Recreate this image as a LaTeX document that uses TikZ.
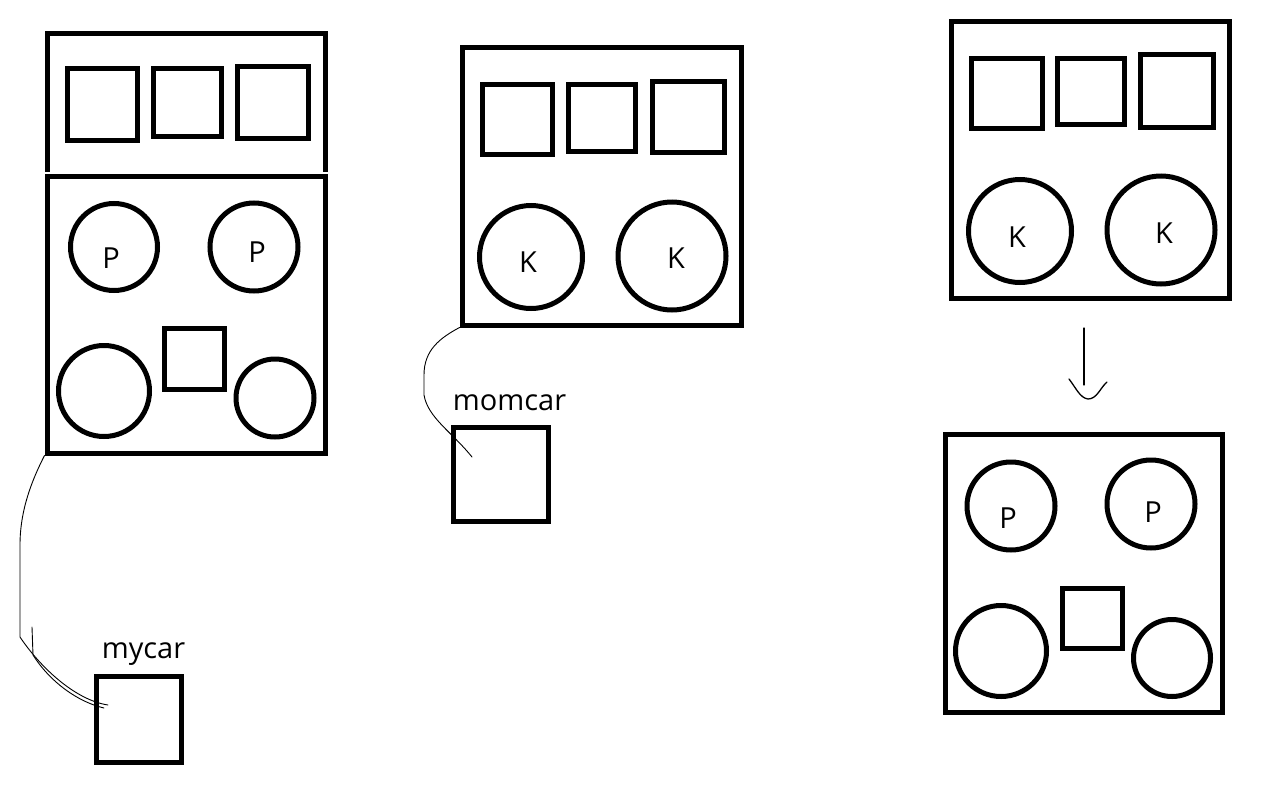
\documentclass[tikz,border=0pt]{standalone}
\usepackage{fontspec}
\setmainfont{Open Sans}
\begin{document}
\begin{tikzpicture}[x=1pt,y=-1pt,
  frame/.style={draw, line width=5pt, rectangle, inner sep=0pt},
  sq/.style={draw, line width=5pt, rectangle, inner sep=0pt},
  wheel/.style={draw, line width=5pt, circle, inner sep=0pt},
  lbl/.style={font=\fontsize{29}{31}\selectfont, anchor=base, inner sep=0pt},
  wire/.style={line width=0.9pt, line cap=round, line join=round}]
\useasboundingbox[fill=white] (0,0) rectangle (1271,787);

% ---------- left: mycar ----------
\draw[line width=5pt] (47,172) -- (47,33) -- (325,33) -- (325,172);
\node[sq, minimum width=70pt, minimum height=72pt] (l1) at (102,104) {};
\node[sq, minimum width=68pt, minimum height=68pt] (l2) at (187,102) {};
\node[sq, minimum width=71pt, minimum height=72pt] (l3) at (272.5,102) {};
\node[frame, minimum width=278pt, minimum height=277pt] (lowL) at (186,314.5) {};
\node[wheel, minimum size=87pt] (lp1) at (114,247) {};
\node[wheel, minimum size=88pt] (lp2) at (254,247) {};
\node[lbl] (lp1t) at (111,268) {P};
\node[lbl] (lp2t) at (257,262) {P};
\node[wheel, minimum size=91pt] (lc1) at (104,391) {};
\node[sq, minimum width=60pt, minimum height=61pt] (lsq) at (194,358.5) {};
\node[wheel, minimum size=78pt] (lc2) at (275,398) {};

\node[sq, minimum width=85pt, minimum height=86pt] (mycar) at (138.5,719) {};
\node[lbl] (mycart) at (143.5,658) {mycar};
\coordinate (myend) at (108,705);
\coordinate (mystart2) at (32,627);
\coordinate (myend2) at (104,708);
\draw[wire] (lowL.south west) .. controls (32,480) and (20,510) .. (20,545)
  -- (20,637) .. controls (40,667) and (75,700) .. (myend);
\draw[wire] (mystart2) -- (33,655) .. controls (50,682) and (78,702) .. (myend2);

% ---------- middle: momcar ----------
\node[frame, minimum width=279pt, minimum height=278pt] (mid) at (601.5,186) {};
\node[sq, minimum width=70pt, minimum height=70pt] (m1) at (517,119) {};
\node[sq, minimum width=67pt, minimum height=67pt] (m2) at (601.5,117.5) {};
\node[sq, minimum width=72pt, minimum height=71pt] (m3) at (688,116.5) {};
\node[wheel, minimum size=103pt] (mk1) at (531,257) {};
\node[wheel, minimum size=108pt] (mk2) at (672,256) {};
\node[lbl] (mk1t) at (528,272) {K};
\node[lbl] (mk2t) at (676,268) {K};

\node[sq, minimum width=95pt, minimum height=94pt] (momcar) at (500.5,474) {};
\node[lbl] (momcart) at (509.5,410) {momcar};
\coordinate (momend) at (472,457);
\draw[wire] (mid.south west) .. controls (440,338) and (424,350) .. (424,375)
  -- (424,395) .. controls (428,418) and (452,432) .. (momend);

% ---------- right top ----------
\node[frame, minimum width=278pt, minimum height=277pt] (topR) at (1090,159.5) {};
\node[sq, minimum width=71pt, minimum height=70pt] (r1) at (1006.5,93) {};
\node[sq, minimum width=67pt, minimum height=66pt] (r2) at (1090.5,91) {};
\node[sq, minimum width=73pt, minimum height=73pt] (r3) at (1176.5,90.5) {};
\node[wheel, minimum size=103pt] (rk1) at (1020,231) {};
\node[wheel, minimum size=108pt] (rk2) at (1161,230) {};
\node[lbl] (rk1t) at (1017,247) {K};
\node[lbl] (rk2t) at (1164,243) {K};

% arrow
\coordinate (atop) at (1084,328);
\coordinate (abot) at (1084,385);
\coordinate (aleft) at (1069,379);
\coordinate (atip) at (1088,399);
\coordinate (aright) at (1107,382);
\draw[line width=1.3pt, line cap=round] (atop) -- (abot);
\draw[line width=1.3pt, line cap=round, line join=round] (aleft) .. controls (1076,388) and (1080,398) .. (atip)
  .. controls (1097,399) and (1100,388) .. (aright);

% ---------- right bottom ----------
\node[frame, minimum width=277pt, minimum height=278pt] (botR) at (1083.5,573) {};
\node[wheel, minimum size=88pt] (rp1) at (1011,506) {};
\node[wheel, minimum size=88pt] (rp2) at (1151,504) {};
\node[lbl] (rp1t) at (1008,528) {P};
\node[lbl] (rp2t) at (1153,522) {P};
\node[wheel, minimum size=91pt] (rc1) at (1001,651) {};
\node[sq, minimum width=60pt, minimum height=60pt] (rsq) at (1092,618) {};
\node[wheel, minimum size=77pt] (rc2) at (1172,658) {};
\end{tikzpicture}
\end{document}
